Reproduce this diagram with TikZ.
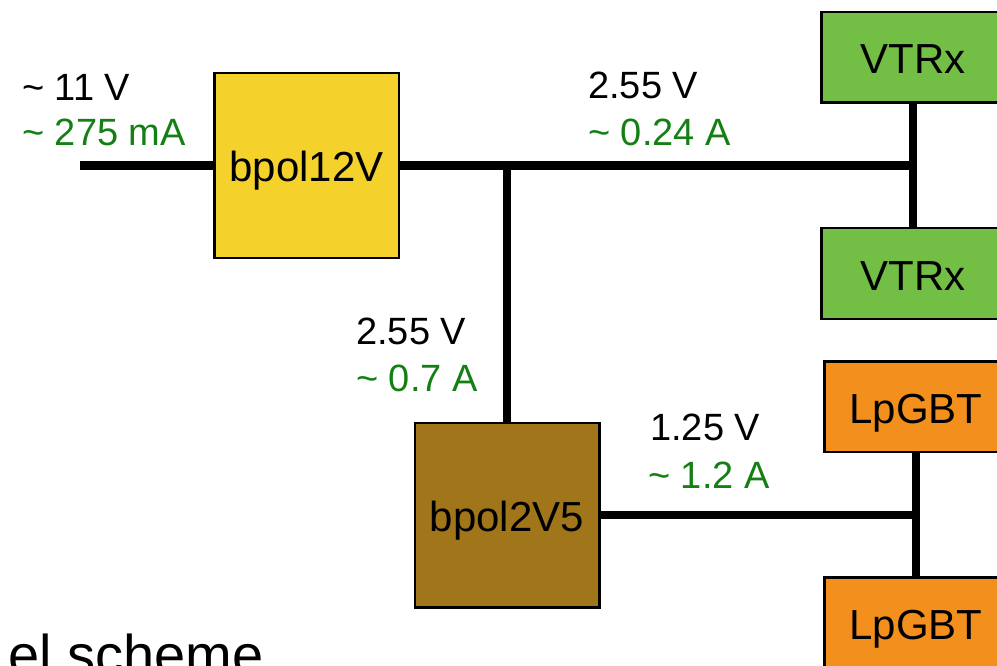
\documentclass[tikz,border=0pt]{standalone}
\usepackage{fontspec}
\setmainfont{Liberation Sans}
\definecolor{cyellow}{HTML}{F5D22B}
\definecolor{cbrown}{HTML}{A1751A}
\definecolor{cgreenbox}{HTML}{73BF45}
\definecolor{corange}{HTML}{F3901D}
\definecolor{curgreen}{RGB}{20,128,20}
\begin{document}
\begin{tikzpicture}[x=1pt,y=-1pt,
  box/.style={draw=black,line width=2.5pt,inner sep=0pt,text height=33pt,text depth=0pt,font=\fontsize{42}{48}\selectfont},
  bigbox/.style={box,minimum width=184.5pt,minimum height=184.5pt},
  smallbox/.style={box,minimum width=183.5pt,minimum height=90.5pt},
  wire/.style={line width=8.5pt},
  lbl/.style={anchor=base west,inner sep=0pt,font=\fontsize{38}{44}\selectfont},
  cur/.style={lbl,text=curgreen}]
\useasboundingbox (0,0) rectangle (997,666);
% boxes
\node[bigbox,fill=cyellow] (b12) at (306.5,165.5) {bpol12V};
\node[bigbox,fill=cbrown] (b25) at (507,515) {bpol2V5};
\node[smallbox,fill=cgreenbox] (vt1) at (913,57.5) {VTRx};
\node[smallbox,fill=cgreenbox] (vt2) at (913,273.5) {VTRx};
\node[smallbox,fill=corange] (lp1) at (916,406.5) {LpGBT};
\node[smallbox,fill=corange] (lp2) at (916,622.5) {LpGBT};
% junction coordinates
\coordinate (in) at (80,165.5);
\coordinate (j1) at (507,165.5);
\coordinate (j2) at (913,165.5);
\coordinate (j3) at (916,515);
% wires
\draw[wire] (in) -- (b12.west);
\draw[wire] (b12.east) -- (j2);
\draw[wire] (vt1.south) -- (vt2.north);
\draw[wire] (j1) -- (b25.north);
\draw[wire] (b25.east) -- (j3);
\draw[wire] (lp1.south) -- (lp2.north);
% labels
\node[lbl] (v11) at (22,101) {\textasciitilde\ 11 V};
\node[cur] (i11) at (22,146) {\textasciitilde\ 275 mA};
\node[lbl] (vtop) at (588,99) {2.55 V};
\node[cur] (itop) at (588,146) {\textasciitilde\ 0.24 A};
\node[lbl] (vmid) at (356,344) {2.55 V};
\node[cur] (imid) at (356,391) {\textasciitilde\ 0.7 A};
\node[lbl] (vlow) at (650,440) {1.25 V};
\node[cur] (ilow) at (648,488) {\textasciitilde\ 1.2 A};
\node[anchor=base east,inner sep=0pt,font=\fontsize{56}{60}\selectfont] (scheme) at (264,674) {el scheme};
\end{tikzpicture}
\end{document}
